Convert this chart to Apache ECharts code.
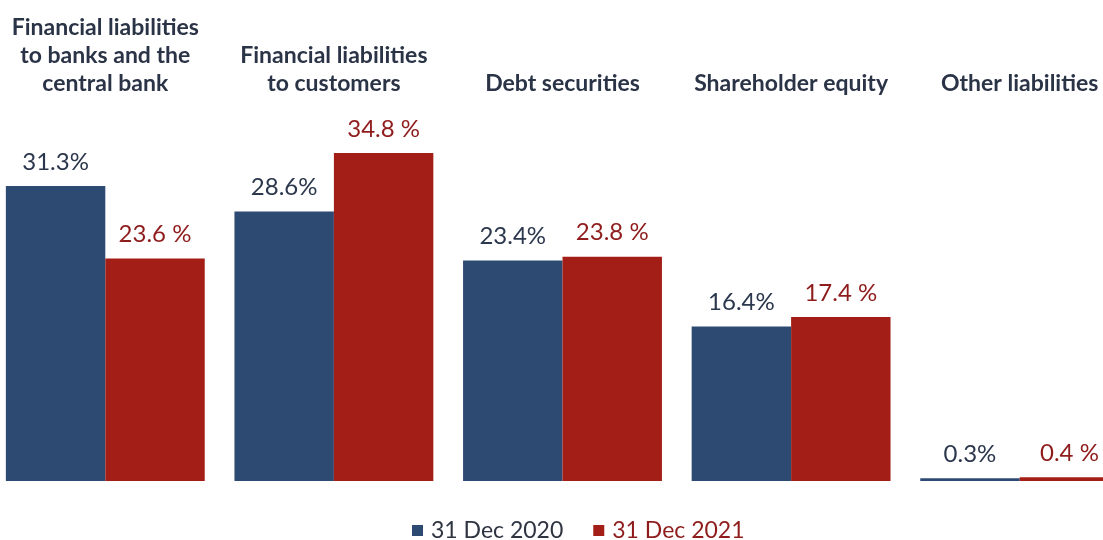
<!DOCTYPE html>
<html>
<head>
<meta charset="utf-8">
<script src="https://cdn.jsdelivr.net/npm/echarts@6/dist/echarts.min.js"></script>
<style>
  html, body { margin: 0; padding: 0; background: #ffffff; overflow: hidden; }
  #wrap { position: relative; width: 1103px; height: 540px; overflow: hidden; }
  /* the plot runs slightly past both edges of the page */
  #chart { position: absolute; left: -9px; top: 0; width: 1143px; height: 540px; }
</style>
</head>
<body>
<div id="wrap"><div id="chart"></div></div>
<script>
// Liability structure, share of total (%)
var categories = [
  'Financial liabilities\nto banks and the\ncentral bank',
  'Financial liabilities\nto customers',
  'Debt securities',
  'Shareholder equity',
  'Other liabilities'
];
var seriesNames = ['31 Dec 2020', '31 Dec 2021'];
var values2020 = [31.3, 28.6, 23.4, 16.4, 0.3];
var values2021 = [23.6, 34.8, 23.8, 17.4, 0.4];

var FONT = 'Lato, "Open Sans", sans-serif';
var BLUE = '#2d4a72';
var RED = '#a31e17';
var BLUE_TEXT = '#2b374c';
var RED_TEXT = '#8f1c1c';

var chart = echarts.init(document.getElementById('chart'), null, { renderer: 'canvas' });

chart.setOption({
  animation: false,
  backgroundColor: '#ffffff',
  grid: { left: 0, right: 0, top: 104, bottom: 59, containLabel: false },
  legend: {
    top: 514,
    left: 416,
    itemWidth: 11,
    itemHeight: 11,
    itemGap: 30,
    icon: 'rect',
    textStyle: { fontFamily: FONT, fontSize: 23, color: '#2e3440', padding: [0, 0, 0, 3] },
    data: [
      { name: seriesNames[0], textStyle: { color: '#2e3440' } },
      { name: seriesNames[1], textStyle: { color: RED_TEXT } }
    ]
  },
  xAxis: {
    type: 'category',
    position: 'top',
    data: categories,
    axisLine: { show: false },
    axisTick: { show: false },
    axisLabel: {
      interval: 0,
      margin: 6,
      fontFamily: FONT,
      fontSize: 23,
      fontWeight: 'bold',
      lineHeight: 28,
      color: '#2b3447'
    }
  },
  yAxis: {
    type: 'value',
    min: 0,
    max: 40,
    show: false,
    splitLine: { show: false }
  },
  series: [
    {
      name: seriesNames[0],
      type: 'bar',
      data: values2020,
      barGap: '0%',
      barCategoryGap: '13%',
      itemStyle: { color: BLUE },
      label: {
        show: true,
        position: 'top',
        distance: 12,
        fontFamily: FONT,
        fontSize: 24,
        color: BLUE_TEXT,
        formatter: function (p) { return p.value.toFixed(1) + '%'; }
      }
    },
    {
      name: seriesNames[1],
      type: 'bar',
      data: values2021,
      itemStyle: { color: RED },
      label: {
        show: true,
        position: 'top',
        distance: 12,
        fontFamily: FONT,
        fontSize: 24,
        color: RED_TEXT,
        formatter: function (p) { return p.value.toFixed(1) + ' %'; }
      }
    }
  ]
});
</script>
</body>
</html>
